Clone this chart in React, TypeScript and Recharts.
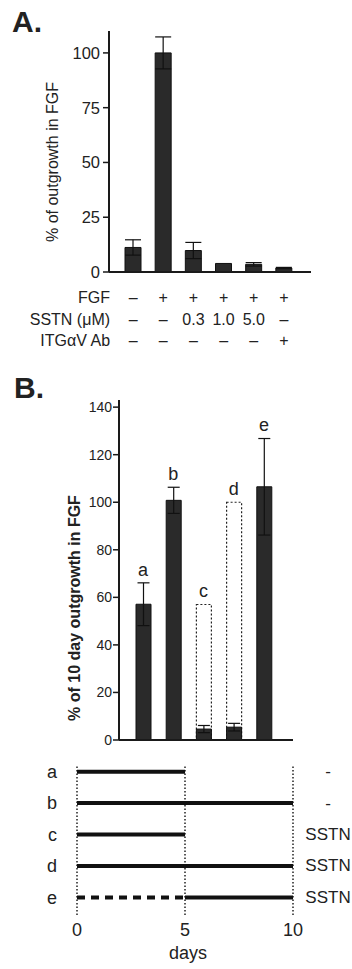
import React from 'react';
import {
  BarChart,
  Bar,
  ComposedChart,
  Scatter,
  LineChart,
  Line,
  XAxis,
  YAxis,
  ErrorBar,
  ReferenceLine
} from 'recharts';

// Panel A: outgrowth relative to FGF
const lanesA = ['L1', 'L2', 'L3', 'L4', 'L5', 'L6'];
const fgfRow = ['–', '+', '+', '+', '+', '+'];
const sstnRow = ['–', '–', '0.3', '1.0', '5.0', '–'];
const itgRow = ['–', '–', '–', '–', '–', '+'];
const rowHeadersA = ['FGF', 'SSTN (μM)', 'ITGαV Ab'];
const outgrowthA = [11.2, 100, 9.8, 3.9, 3.5, 1.8];
const errA = [3.5, 7.3, 3.7, 0, 0.8, 0.3];
const ticksA = [0, 25, 50, 75, 100];

// Panel B: % of 10 day outgrowth
const groupsB = ['a', 'b', 'c', 'd', 'e'];
const outgrowthB = [57.1, 100.8, 4.6, 5.4, 106.5];
const errB = [9, 5.5, 1.5, 1.6, 20.3];
const withdrawnB = [null, null, 57, 100, null];
const ticksB = [0, 20, 40, 60, 80, 100, 120, 140];

// Timeline
const rows = ['a', 'b', 'c', 'd', 'e'];
const treatment = ['-', '-', 'SSTN', 'SSTN', 'SSTN'];
const dayTicks = [0, 5, 10];
const solidSpans: [string, number, number][] = [
  ['a', 0, 5],
  ['b', 0, 10],
  ['c', 0, 5],
  ['d', 0, 10],
  ['e', 5, 10]
];
const dashedSpans: [string, number, number][] = [['e', 0, 5]];

const INK = '#1a1a1a';
const BAR = '#2a2a2a';

const dataA = lanesA.map((lane, i) => ({ lane, value: outgrowthA[i], err: errA[i] }));

const dataB = groupsB.map((g, i) => ({
  group: g,
  value: outgrowthB[i],
  err: errB[i],
  withdrawn: withdrawnB[i],
  // letter sits a little above the tallest mark of the group
  labelAt: Math.max(outgrowthB[i] + errB[i], withdrawnB[i] ?? 0) + 5.5
}));

const rowPos = (r: string) => rows.length - rows.indexOf(r);

const LaneTick = (props: any) => {
  const { x, y } = props;
  const index = props.index ?? props.payload?.index ?? 0;
  const offsets = [25.4, 47.7, 68.4];
  return (
    <g>
      {index === 0 &&
        rowHeadersA.map((t, k) => (
          <text key={t} x={x - 23} y={y + offsets[k]} textAnchor="end" dominantBaseline="central" fontSize={16} fill="#222">
            {t}
          </text>
        ))}
      {[fgfRow, sstnRow, itgRow].map((r, k) => (
        <text key={k} x={x} y={y + offsets[k]} textAnchor="middle" dominantBaseline="central" fontSize={16} fill="#222">
          {r[index]}
        </text>
      ))}
    </g>
  );
};

const Letter = (props: any) => (
  <text x={props.cx} y={props.cy} textAnchor="middle" dominantBaseline="central" fontSize={18} fill="#222">
    {props.payload.group}
  </text>
);

const TreatmentTick = (props: any) => {
  const { x, y, payload } = props;
  return (
    <text x={x + 35} y={y} textAnchor="middle" dominantBaseline="central" fontSize={17} fill="#222">
      {treatment[rows.length - payload.value]}
    </text>
  );
};

const panelLetter = (left: number, top: number): React.CSSProperties => ({
  position: 'absolute',
  left,
  top,
  fontSize: 30,
  fontWeight: 'bold',
  lineHeight: '30px',
  color: '#222'
});

const yTitle = (cx: number, cy: number, size: number, bold: boolean): React.CSSProperties => ({
  position: 'absolute',
  left: cx,
  top: cy,
  transform: 'translate(-50%, -50%) rotate(-90deg)',
  whiteSpace: 'nowrap',
  fontSize: size,
  fontWeight: bold ? 'bold' : 'normal',
  color: '#222'
});

export default function App() {
  return (
    <div
      style={{
        position: 'absolute',
        left: 0,
        top: 0,
        width: 352,
        height: 969,
        background: '#fff',
        overflow: 'hidden',
        fontFamily: '"Liberation Sans", Arial, sans-serif'
      }}
    >
      <div style={panelLetter(12, 7)}>A.</div>
      <div style={yTitle(53, 162, 16, false)}>% of outgrowth in FGF</div>

      <div style={{ position: 'absolute', left: 0, top: 0 }}>
        <BarChart width={352} height={360} data={dataA} margin={{ top: 31, right: 41, bottom: 8, left: 0 }}>
          <XAxis
            dataKey="lane"
            padding={{ left: 9, right: 12 }}
            axisLine={{ stroke: INK, strokeWidth: 2 }}
            tickLine={false}
            tickSize={0}
            tickMargin={0}
            height={80}
            interval={0}
            tick={<LaneTick />}
          />
          <YAxis
            width={109}
            domain={[0, 110]}
            ticks={ticksA}
            axisLine={{ stroke: INK, strokeWidth: 2 }}
            tickLine={{ stroke: INK, strokeWidth: 1.5 }}
            tickSize={6}
            tickMargin={3}
            tick={{ fontSize: 16.5, fill: '#222' }}
          />
          <Bar dataKey="value" barSize={16} fill={BAR} stroke="#111" strokeWidth={1} isAnimationActive={false}>
            <ErrorBar dataKey="err" width={8} stroke="#111" strokeWidth={1.2} />
          </Bar>
        </BarChart>
      </div>

      <div style={panelLetter(14, 373)}>B.</div>
      <div style={yTitle(75, 608, 16, true)}>% of 10 day outgrowth in FGF</div>

      <div style={{ position: 'absolute', left: 0, top: 380 }}>
        <ComposedChart
          width={352}
          height={390}
          data={dataB}
          barGap={-15}
          margin={{ top: 20, right: 59, bottom: 20, left: 0 }}
        >
          <XAxis
            dataKey="group"
            padding={{ left: 9, right: 14 }}
            axisLine={{ stroke: INK, strokeWidth: 2 }}
            tickLine={false}
            tick={false}
            height={10}
          />
          <YAxis
            width={119}
            domain={[0, 143]}
            ticks={ticksB}
            axisLine={{ stroke: INK, strokeWidth: 2 }}
            tickLine={{ stroke: INK, strokeWidth: 1.5 }}
            tickSize={6}
            tickMargin={1}
            tick={{ fontSize: 14, fill: '#222' }}
          />
          <Bar
            dataKey="withdrawn"
            barSize={15}
            fill="none"
            stroke="#222"
            strokeWidth={1.2}
            strokeDasharray="2 2"
            isAnimationActive={false}
          />
          <Bar dataKey="value" barSize={15} fill={BAR} stroke="#111" strokeWidth={1} isAnimationActive={false}>
            <ErrorBar dataKey="err" width={6} stroke="#111" strokeWidth={1.2} />
          </Bar>
          <Scatter dataKey="labelAt" shape={<Letter />} isAnimationActive={false} />
        </ComposedChart>
      </div>

      <div style={{ position: 'absolute', left: 0, top: 740 }}>
        <LineChart width={352} height={229} margin={{ top: 26, right: 0, bottom: 10, left: 0 }}>
          <XAxis
            type="number"
            dataKey="day"
            domain={[0, 10]}
            ticks={dayTicks}
            axisLine={false}
            tickLine={false}
            tickSize={0}
            tickMargin={8}
            height={44}
            tick={{ fontSize: 18, fill: '#222' }}
            label={{ value: 'days', position: 'insideBottom', offset: 0, dx: 3, fontSize: 18, fill: '#222' }}
          />
          <YAxis
            yAxisId="left"
            type="number"
            width={77}
            domain={[0.44, 5.18]}
            ticks={[1, 2, 3, 4, 5]}
            tickFormatter={(v: number) => rows[rows.length - v]}
            axisLine={false}
            tickLine={false}
            tickSize={0}
            tickMargin={20}
            tick={{ fontSize: 18, fill: '#222' }}
          />
          <YAxis
            yAxisId="right"
            orientation="right"
            type="number"
            width={59}
            domain={[0.44, 5.18]}
            ticks={[1, 2, 3, 4, 5]}
            axisLine={false}
            tickLine={false}
            tickSize={0}
            tickMargin={0}
            tick={<TreatmentTick />}
          />
          {dayTicks.map((d) => (
            <ReferenceLine key={d} yAxisId="left" x={d} stroke="#222" strokeWidth={1.5} strokeDasharray="1.5 2" />
          ))}
          {solidSpans.map(([r, from, to]) => (
            <Line
              key={'s' + r}
              yAxisId="left"
              data={[
                { day: from, pos: rowPos(r) },
                { day: to, pos: rowPos(r) }
              ]}
              dataKey="pos"
              stroke="#111"
              strokeWidth={4}
              dot={false}
              isAnimationActive={false}
            />
          ))}
          {/* same domain on both sides, so the dashed span can hang off the right axis */}
          {dashedSpans.map(([r, from, to]) => (
            <Line
              key={'d' + r}
              yAxisId="right"
              data={[
                { day: from, pos: rowPos(r) },
                { day: to, pos: rowPos(r) }
              ]}
              dataKey="pos"
              stroke="#111"
              strokeWidth={4}
              strokeDasharray="8 6"
              dot={false}
              isAnimationActive={false}
            />
          ))}
        </LineChart>
      </div>
    </div>
  );
}
